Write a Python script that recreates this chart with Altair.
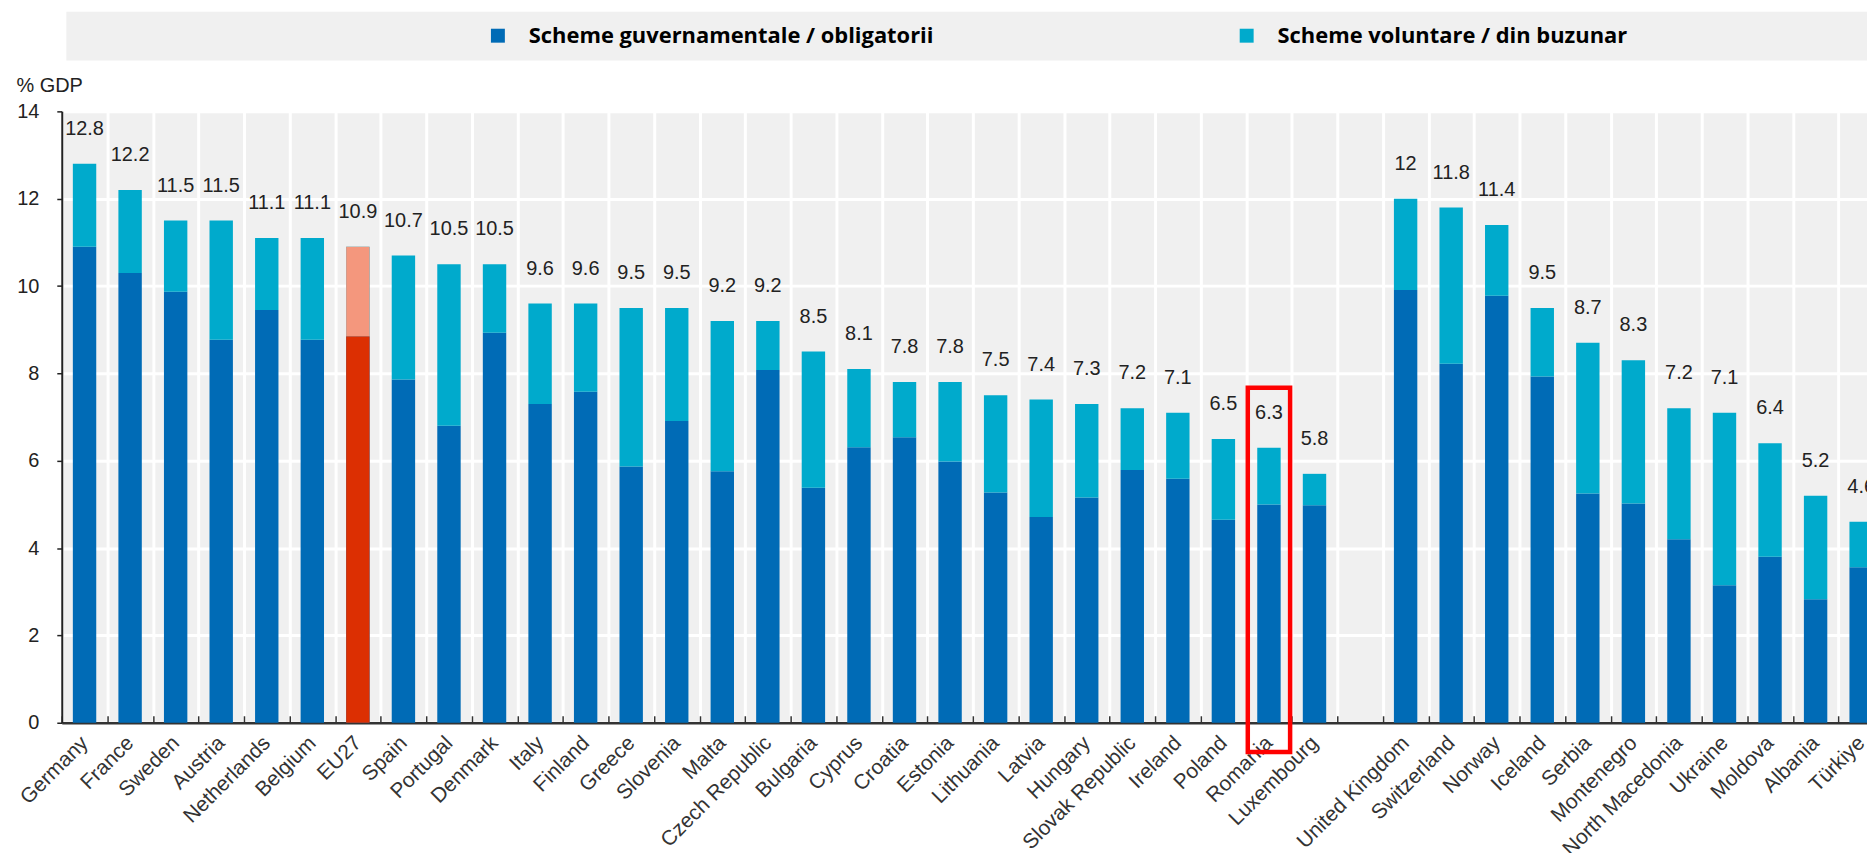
import altair as alt
import pandas as pd

# ---------------- data ----------------
countries = ["Germany", "France", "Sweden", "Austria", "Netherlands", "Belgium", "EU27",
             "Spain", "Portugal", "Denmark", "Italy", "Finland", "Greece", "Slovenia",
             "Malta", "Czech Republic", "Bulgaria", "Cyprus", "Croatia", "Estonia",
             "Lithuania", "Latvia", "Hungary", "Slovak Republic", "Ireland", "Poland",
             "Romania", "Luxembourg", " ",
             "United Kingdom", "Switzerland", "Norway", "Iceland", "Serbia", "Montenegro",
             "North Macedonia", "Ukraine", "Moldova", "Albania", "Türkiye"]

total = [12.8, 12.2, 11.5, 11.5, 11.1, 11.1, 10.9, 10.7, 10.5, 10.5, 9.6, 9.6, 9.5, 9.5,
         9.2, 9.2, 8.5, 8.1, 7.8, 7.8, 7.5, 7.4, 7.3, 7.2, 7.1, 6.5, 6.3, 5.7, None,
         12.0, 11.8, 11.4, 9.5, 8.7, 8.3, 7.2, 7.1, 6.4, 5.2, 4.6]

gov = [10.9, 10.3, 9.87, 8.77, 9.45, 8.77, 8.85, 7.86, 6.8, 8.93, 7.3, 7.58, 5.87, 6.91,
       5.76, 8.08, 5.38, 6.31, 6.54, 5.98, 5.27, 4.71, 5.16, 5.79, 5.59, 4.65, 5.0, 4.98, None,
       9.91, 8.22, 9.78, 7.93, 5.25, 5.02, 4.2, 3.15, 3.8, 2.83, 3.56]

labels = ["12.8", "12.2", "11.5", "11.5", "11.1", "11.1", "10.9", "10.7", "10.5", "10.5",
          "9.6", "9.6", "9.5", "9.5", "9.2", "9.2", "8.5", "8.1", "7.8", "7.8", "7.5", "7.4",
          "7.3", "7.2", "7.1", "6.5", "6.3", "5.8", "",
          "12", "11.8", "11.4", "9.5", "8.7", "8.3", "7.2", "7.1", "6.4", "5.2", "4.6"]

series = ["Scheme guvernamentale / obligatorii", "Scheme voluntare / din buzunar"]
series_colors = ["#006BB6", "#00AACC"]
eu_colors = ["#DC2F02", "#F4977D"]

highlight_country = "Romania"
highlight_range = [-0.67, 7.67]

y_ticks = [0, 2, 4, 6, 8, 10, 12, 14]

# ---------------- tables ----------------
rows = []
eu_rows = []
for c, t, g in zip(countries, total, gov):
    if t is None:
        continue
    rows.append({"country": c, "series": series[0], "y0": 0.0, "y1": g})
    rows.append({"country": c, "series": series[1], "y0": g, "y1": t})
    if c == "EU27":
        eu_rows.append({"country": c, "y0": 0.0, "y1": g, "fillc": eu_colors[0]})
        eu_rows.append({"country": c, "y0": g, "y1": t, "fillc": eu_colors[1]})
df_bars = pd.DataFrame(rows)
df_eu = pd.DataFrame(eu_rows)
df_lab = pd.DataFrame([{"country": c, "total": t, "label": l}
                       for c, t, l in zip(countries, total, labels) if t is not None])
df_box = pd.DataFrame([{"country": highlight_country,
                        "lo": highlight_range[0], "hi": highlight_range[1]}])
df_one = pd.DataFrame([{"k": 0}])

SANS = "Liberation Sans, Arial, sans-serif"

x_enc = alt.X(
    "country:N",
    scale=alt.Scale(domain=countries, range=[0, 1830], paddingInner=0, paddingOuter=0),
    axis=alt.Axis(
        title=None, tickBand="extent", grid=True, gridColor="#ffffff", gridWidth=3,
        labelAngle=-45, labelAlign="right", labelBaseline="middle",
        labelFont=SANS, labelFontSize=21, labelColor="#333333", labelPadding=24,
        domainColor="#333333", domainWidth=2.5, tickColor="#333333",
        tickSize=alt.ExprRef("-7"), tickWidth=1.5, labelLimit=400, zindex=0,
    ),
)

y_scale = alt.Scale(domain=[0, 14], nice=False)
y_axis = alt.Axis(
    values=y_ticks, title="% GDP", titleAngle=0, titleAlign="left",
    titleBaseline="alphabetic", titleX=-46, titleY=-20, titleFont=SANS,
    titleFontSize=20, titleFontWeight="normal", titleColor="#222222",
    labelFont=SANS, labelFontSize=20, labelColor="#222222", labelPadding=18,
    grid=True, gridColor="#ffffff", gridWidth=3,
    domainColor="#222222", domainWidth=2, tickColor="#222222", tickSize=5, tickWidth=1.5,
)

band = alt.Chart(df_one).mark_rect(color="#f0f0f0").encode(
    x=alt.value(4.6), x2=alt.value(1830), y=alt.value(-100), y2=alt.value(-51)
)

bars = alt.Chart(df_bars).mark_bar(size=23.5).encode(
    x=x_enc,
    y=alt.Y("y0:Q", scale=y_scale, axis=y_axis),
    y2="y1:Q",
    color=alt.Color(
        "series:N",
        scale=alt.Scale(domain=series, range=series_colors),
        legend=alt.Legend(
            orient="none", legendX=427, legendY=-87, direction="horizontal", title=None,
            symbolType="square", symbolSize=196, symbolStrokeWidth=0,
            labelFont="Open Sans", labelFontSize=22, labelFontWeight="bold",
            labelColor="#000000", labelOffset=20, columnPadding=303, padding=0,
            labelLimit=1000, zindex=1,
        ),
    ),
)

eu = alt.Chart(df_eu).mark_bar(size=23.5).encode(
    x=alt.X("country:N"),
    y=alt.Y("y0:Q"),
    y2="y1:Q",
    fill=alt.Fill("fillc:N", scale=None),
)

text = alt.Chart(df_lab).mark_text(
    font=SANS, fontSize=20, color="#222222", baseline="alphabetic", dy=-29
).encode(
    x=alt.X("country:N"),
    y=alt.Y("total:Q"),
    text="label:N",
)

box = alt.Chart(df_box).mark_bar(
    size=42.5, filled=False, stroke="#ff0000", strokeWidth=4.5
).encode(
    x=alt.X("country:N"),
    y=alt.Y("lo:Q"),
    y2="hi:Q",
)

chart = alt.layer(band, bars, eu, text, box).properties(
    width=1813, height=614,
    autosize=alt.AutoSizeParams(type="none"),
    padding={"left": 54, "top": 102, "right": 0, "bottom": 129},
).configure_view(fill="#f0f0f0", stroke="transparent")

chart.save("out.html", embed_options={"renderer": "svg", "actions": False})
